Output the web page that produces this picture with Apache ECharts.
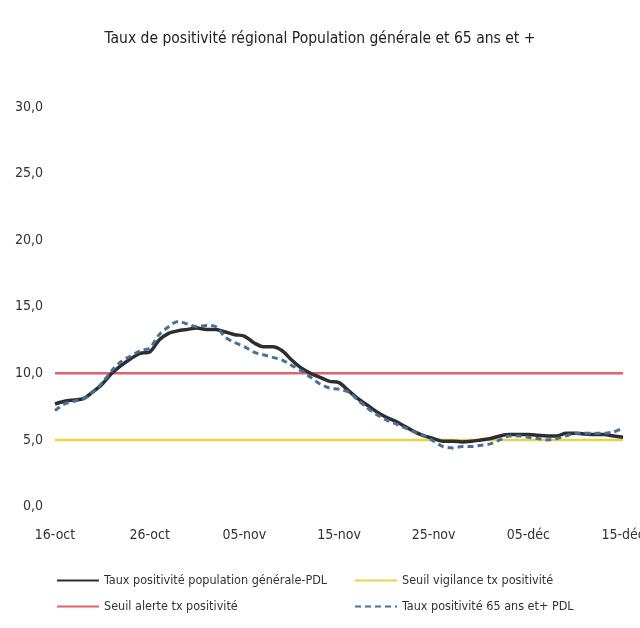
<!DOCTYPE html>
<html>
<head>
<meta charset="utf-8">
<script src="https://cdn.jsdelivr.net/npm/echarts@6/dist/echarts.min.js"></script>
<style>
html,body{margin:0;padding:0;background:#fff;}
#chart{width:640px;height:628px;}
</style>
</head>
<body>
<div id="chart"></div>
<script>
const dates = [
 "16-oct","17-oct","18-oct","19-oct","20-oct","21-oct","22-oct","23-oct","24-oct","25-oct","26-oct","27-oct","28-oct","29-oct","30-oct","31-oct",
 "01-nov","02-nov","03-nov","04-nov","05-nov","06-nov","07-nov","08-nov","09-nov","10-nov","11-nov","12-nov","13-nov","14-nov","15-nov",
 "16-nov","17-nov","18-nov","19-nov","20-nov","21-nov","22-nov","23-nov","24-nov","25-nov","26-nov","27-nov","28-nov","29-nov","30-nov",
 "01-déc","02-déc","03-déc","04-déc","05-déc","06-déc","07-déc","08-déc","09-déc","10-déc","11-déc","12-déc","13-déc","14-déc","15-déc"
];
const tauxGeneral = [
 7.7,7.9,8.0,8.1,8.6,9.2,10.0,10.6,11.1,11.5,11.6,12.5,13.0,13.2,13.3,13.4,
 13.3,13.3,13.1,12.9,12.8,12.3,12.0,12.0,11.7,11.0,10.4,10.0,9.7,9.4,9.3,
 8.7,8.1,7.6,7.1,6.7,6.4,6.0,5.6,5.3,5.1,4.9,4.9,4.85,4.9,5.0,
 5.1,5.3,5.4,5.4,5.4,5.35,5.3,5.3,5.5,5.5,5.45,5.4,5.4,5.3,5.2
];
const taux65 = [
 7.2,7.7,7.9,8.1,8.6,9.3,10.2,10.9,11.3,11.7,11.9,12.9,13.5,13.9,13.7,13.5,
 13.6,13.5,12.7,12.3,12.0,11.6,11.4,11.2,11.0,10.6,10.2,9.7,9.2,8.9,8.8,
 8.6,8.0,7.4,6.9,6.5,6.2,5.9,5.6,5.3,4.9,4.5,4.4,4.5,4.5,4.6,
 4.7,5.0,5.3,5.3,5.2,5.1,5.0,5.1,5.3,5.5,5.5,5.5,5.5,5.6,5.9
];
const seuilVigilance = 5;
const seuilAlerte = 10;
const yTicks = { min: 0, max: 30, interval: 5 };

const FONT = '"Liberation Sans Narrow","DejaVu Sans Condensed","Noto Sans",sans-serif';
const chart = echarts.init(document.getElementById('chart'), null, {renderer:'canvas'});
chart.setOption({
  backgroundColor: '#ffffff',
  animation: false,
  title: {
    text: 'Taux de positivité régional Population générale et 65 ans et +',
    left: 'center', top: 26,
    textStyle: { fontFamily: FONT, fontSize: 15.5, fontWeight: 'normal', color: '#222' }
  },
  grid: { left: 55, right: 17, top: 107, bottom: 121.5, containLabel: false, outerBoundsMode: 'none' },
  xAxis: {
    type: 'category', data: dates, boundaryGap: false,
    axisLine: { show: false }, axisTick: { show: false },
    axisLabel: { interval: 9, margin: 22, fontFamily: FONT, fontSize: 14, color: '#333' },
    splitLine: { show: false }
  },
  yAxis: {
    type: 'value', min: yTicks.min, max: yTicks.max, interval: yTicks.interval,
    axisLine: { show: false }, axisTick: { show: false }, splitLine: { show: false },
    axisLabel: { margin: 12, fontFamily: FONT, fontSize: 14, color: '#333',
      formatter: v => v.toFixed(1).replace('.', ',') }
  },
  legend: [
    { orient: 'vertical', left: 51, top: 569, itemWidth: 42, itemHeight: 14, itemGap: 13,
      itemStyle: { opacity: 0 },
      textStyle: { fontFamily: FONT, fontSize: 12.5, color: '#333' },
      data: ['Taux positivité population générale-PDL', 'Seuil alerte tx positivité'] },
    { orient: 'vertical', left: 349, top: 569, itemWidth: 42, itemHeight: 14, itemGap: 13,
      itemStyle: { opacity: 0 },
      textStyle: { fontFamily: FONT, fontSize: 12.5, color: '#333' },
      data: ['Seuil vigilance tx positivité', 'Taux positivité 65 ans et+ PDL'] }
  ],
  series: [
    { name: 'Seuil vigilance tx positivité', type: 'line', symbol: 'none',
      data: dates.map(() => seuilVigilance),
      lineStyle: { color: '#e8d24a', width: 2.5 }, itemStyle: { color: '#e8d24a' }, z: 1 },
    { name: 'Seuil alerte tx positivité', type: 'line', symbol: 'none',
      data: dates.map(() => seuilAlerte),
      lineStyle: { color: '#e0636a', width: 2.5 }, itemStyle: { color: '#e0636a' }, z: 1 },
    { name: 'Taux positivité population générale-PDL', type: 'line', symbol: 'none', smooth: 0.3,
      data: tauxGeneral,
      lineStyle: { color: '#2e2e2e', width: 3.5 }, itemStyle: { color: '#2e2e2e' }, z: 3 },
    { name: 'Taux positivité 65 ans et+ PDL', type: 'line', symbol: 'none', smooth: 0.3,
      data: taux65,
      lineStyle: { color: '#4b6f98', width: 3, type: [6, 4] }, itemStyle: { color: '#4b6f98' }, z: 4 }
  ]
});
</script>
</body>
</html>
